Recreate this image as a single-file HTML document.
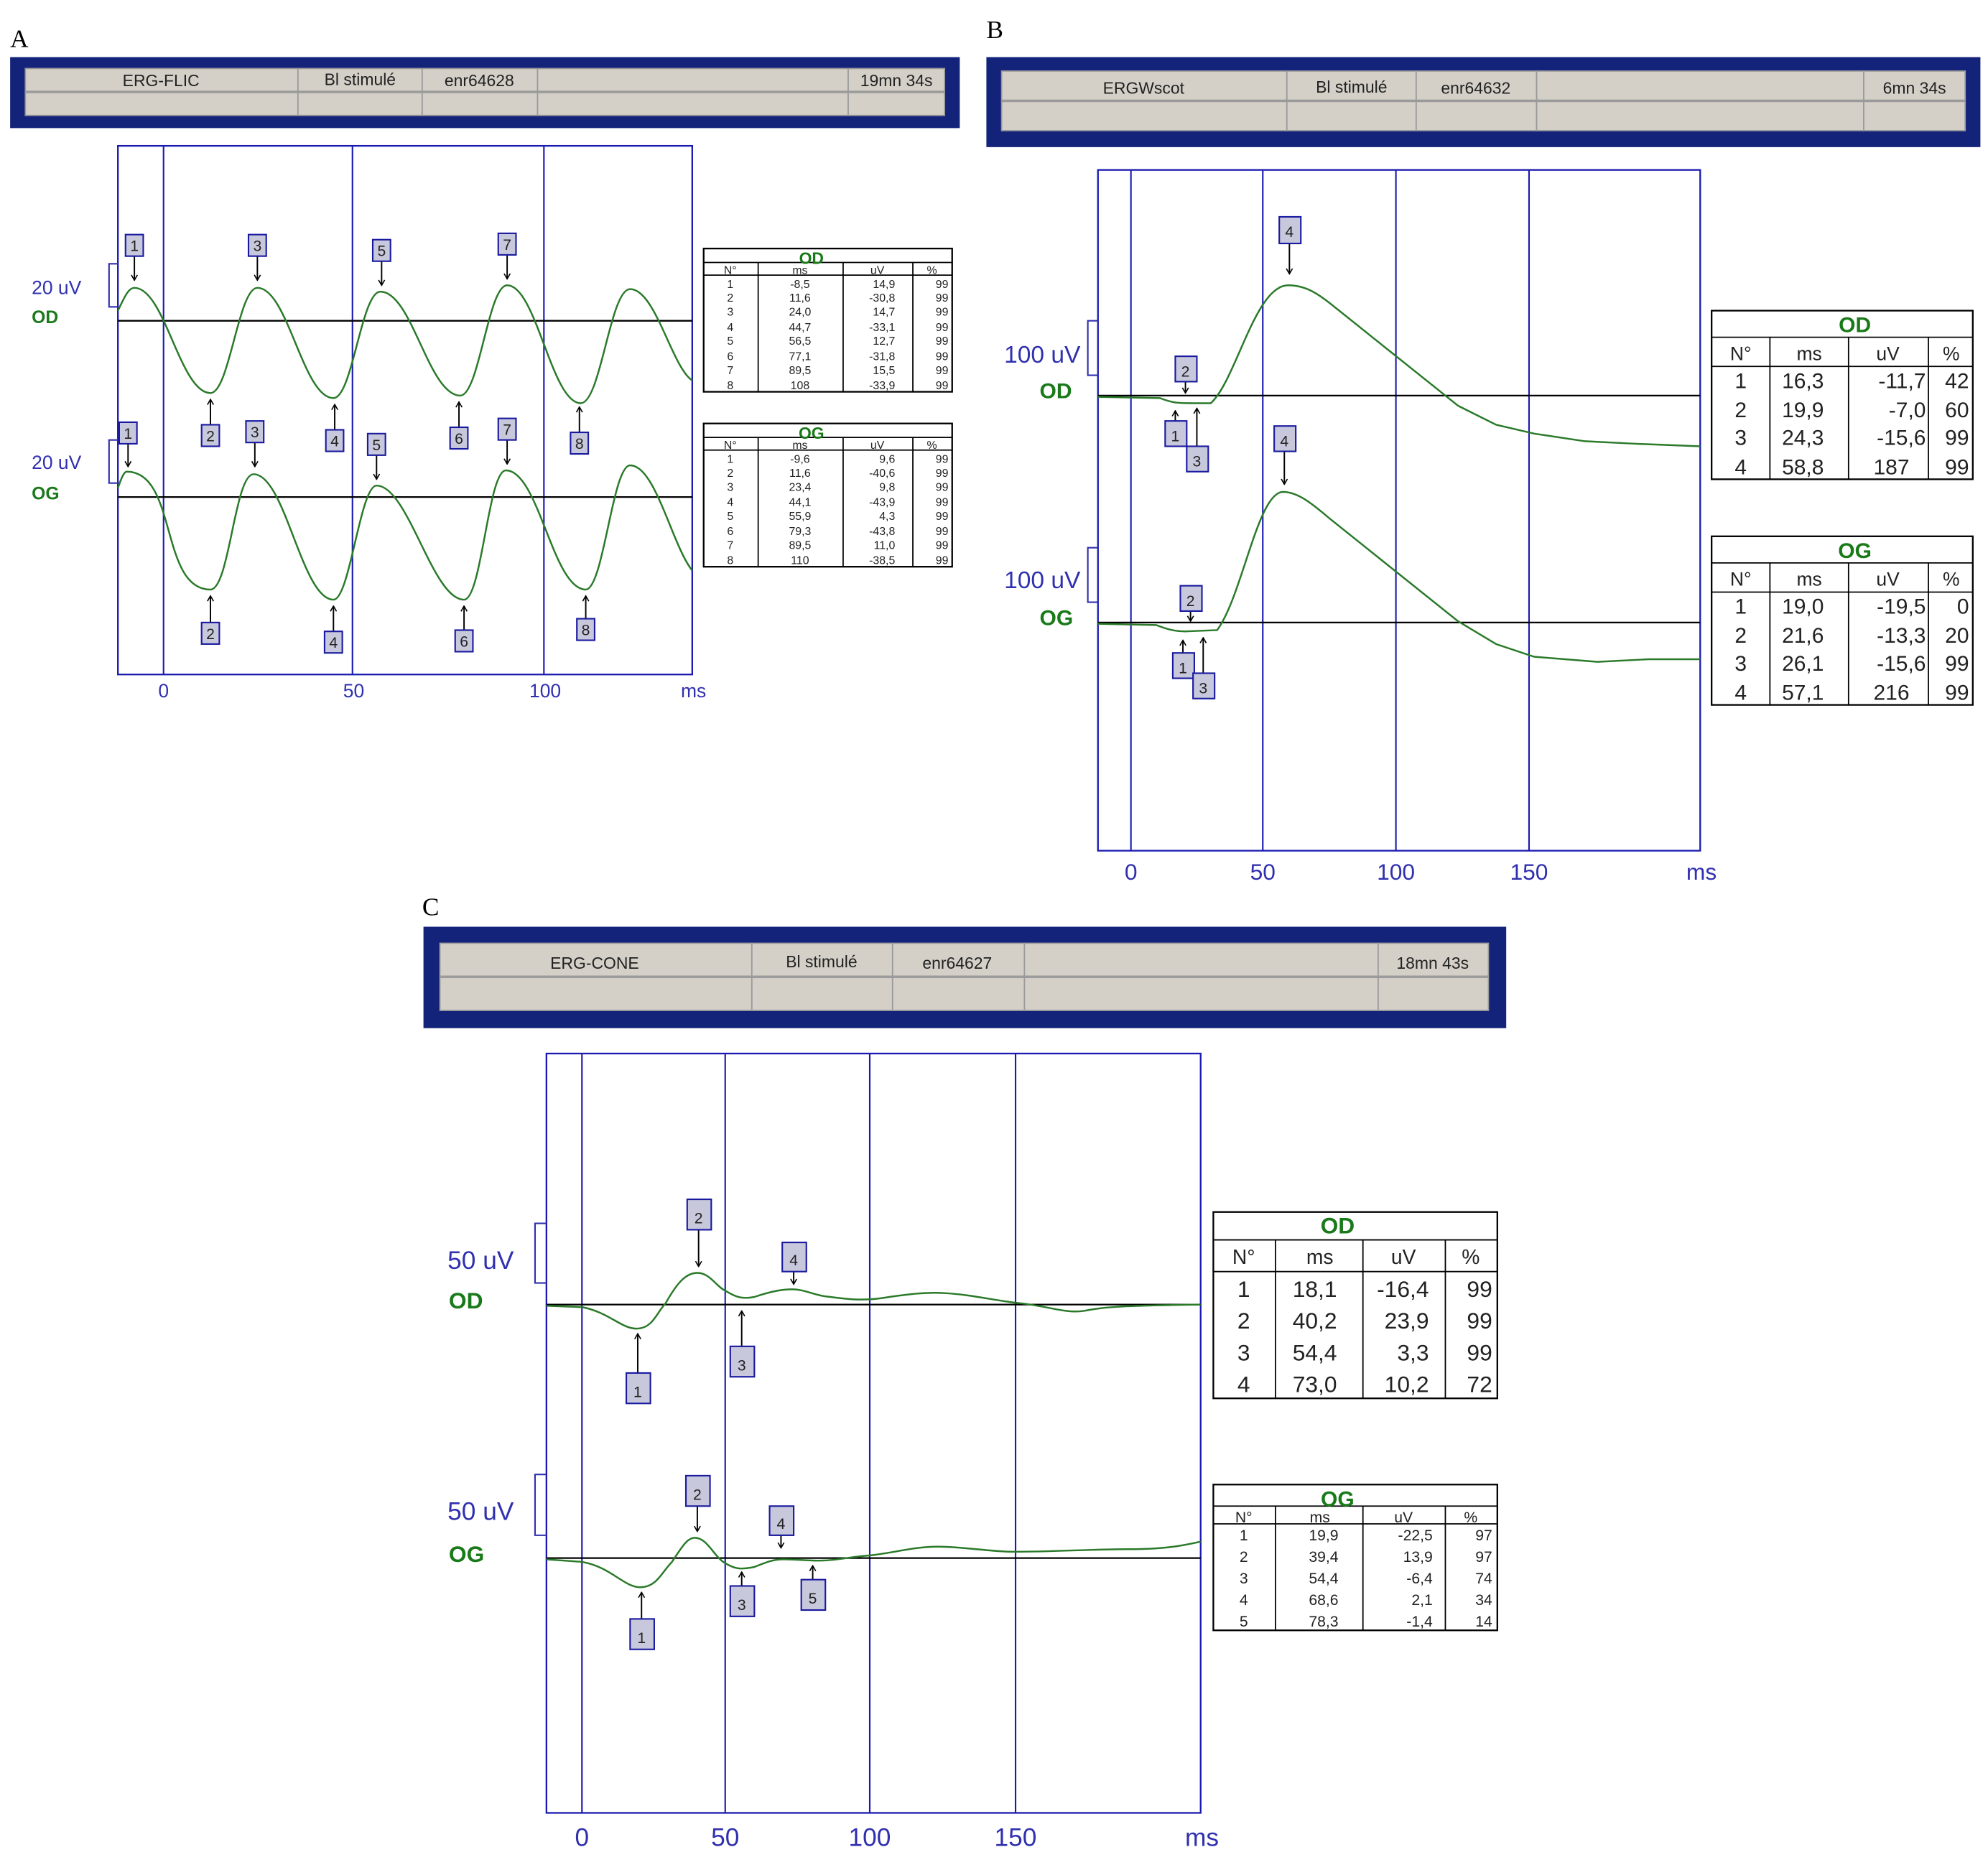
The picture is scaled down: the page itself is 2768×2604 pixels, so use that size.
<!DOCTYPE html>
<html><head><meta charset="utf-8"><style>html,body{margin:0;padding:0;background:#fff}svg{display:block}</style></head>
<body>
<svg xmlns="http://www.w3.org/2000/svg" width="2768" height="2604" viewBox="0 0 1568 1475" font-family="Liberation Sans, sans-serif">
<defs>
<marker id="ah" viewBox="0 0 10 10" refX="9" refY="5" markerWidth="6" markerHeight="6" markerUnits="userSpaceOnUse" orient="auto"><path d="M2,1 L9,5 L2,9" fill="none" stroke="#000" stroke-width="1.5"/></marker>
<style>
.hd{fill:#d4d0c8;stroke:#9a9a9a;stroke-width:1}
.ht{font-size:13px;fill:#222;text-anchor:middle}
.pb{fill:none;stroke:#1a1ab0;stroke-width:1.3}
.vl{stroke:#1a1ab0;stroke-width:1.2}
.bl{stroke:#000;stroke-width:1.3}
.wv{fill:none;stroke:#2a7a2a;stroke-width:1.4}
.mb{fill:#c8c8dc;stroke:#1a1aa0;stroke-width:1.2}
.mt{font-size:12px;fill:#222;text-anchor:middle}
.ar{stroke:#000;stroke-width:1.1;marker-end:url(#ah)}
.uv{fill:#3030b0}
.eye{fill:#1a7a1a;font-weight:bold}
.ax{fill:#3030b0;text-anchor:middle}
.tb{fill:#fff;stroke:#000;stroke-width:1.3}
.tl{stroke:#000;stroke-width:1}
.tt{fill:#1a7a1a;font-weight:bold;text-anchor:middle}
.c{text-anchor:middle;fill:#222}
.r{text-anchor:end;fill:#222}
</style>
</defs>

<!-- ================= A ================= -->
<text x="8" y="37" font-family="Liberation Serif, serif" font-size="20">A</text>
<rect x="8" y="45" width="749" height="56" fill="#14237a"/>
<rect x="20" y="54" width="725" height="37" fill="#d4d0c8"/>
<g class="hd"><rect x="20" y="54" width="215" height="18"/><rect x="235" y="54" width="98" height="18"/><rect x="333" y="54" width="91" height="18"/><rect x="424" y="54" width="245" height="18"/><rect x="669" y="54" width="76" height="18"/>
<rect x="20" y="73" width="215" height="18"/><rect x="235" y="73" width="98" height="18"/><rect x="333" y="73" width="91" height="18"/><rect x="424" y="73" width="245" height="18"/><rect x="669" y="73" width="76" height="18"/></g>
<text class="ht" x="127" y="68">ERG-FLIC</text><text class="ht" x="284" y="67" font-size="11">Bl stimulé</text><text class="ht" x="378" y="68">enr64628</text><text class="ht" x="707" y="68">19mn 34s</text>

<rect class="pb" x="93" y="115" width="453" height="417"/>
<line class="vl" x1="129" y1="115" x2="129" y2="532"/><line class="vl" x1="278" y1="115" x2="278" y2="532"/><line class="vl" x1="429" y1="115" x2="429" y2="532"/>
<line class="bl" x1="93" y1="253" x2="546" y2="253"/><line class="bl" x1="93" y1="392" x2="546" y2="392"/>
<g font-size="15"><text class="ax" x="129" y="550">0</text><text class="ax" x="279" y="550">50</text><text class="ax" x="430" y="550">100</text><text class="ax" x="547" y="550">ms</text></g>
<path class="wv" d="M93,245 C98,235 101,227 106,227 C130,227 142,310 166,310 C181,310 188,227 203,227 C227,227 239,314 263,314 C278,314 285,230 300,230 C325,230 338,312 363,312 C378,312 385,225 400,225 C423,225 435,318 458,318 C474,318 481,228 497,228 C517,228 530,290 546,300"/>
<path class="wv" d="M93,385 C96,376 98,372 100,372 C140,372 126,465 166,465 C181,465 185,374 200,374 C225,374 238,473 263,473 C276,473 284,383 297,383 C322,383 341,473 366,473 C380,473 385,371 399,371 C425,371 436,465 462,465 C476,465 483,367 497,367 C517,367 530,430 546,450"/>
<path d="M93,208 H86 V242 H93" fill="none" stroke="#3030b0" stroke-width="1.2"/>
<path d="M93,347 H86 V381 H93" fill="none" stroke="#3030b0" stroke-width="1.2"/>
<text class="uv" x="25" y="232" font-size="15">20 uV</text><text class="eye" x="25" y="255" font-size="14">OD</text>
<text class="uv" x="25" y="370" font-size="15">20 uV</text><text class="eye" x="25" y="394" font-size="14">OG</text>
<g>
<line class="ar" x1="106" y1="202" x2="106" y2="221"/><rect class="mb" x="99" y="185" width="14" height="17"/><text class="mt" x="106" y="198">1</text>
<line class="ar" x1="203" y1="202" x2="203" y2="221"/><rect class="mb" x="196" y="185" width="14" height="17"/><text class="mt" x="203" y="198">3</text>
<line class="ar" x1="301" y1="206" x2="301" y2="225"/><rect class="mb" x="294" y="189" width="14" height="17"/><text class="mt" x="301" y="202">5</text>
<line class="ar" x1="400" y1="201" x2="400" y2="220"/><rect class="mb" x="393" y="184" width="14" height="17"/><text class="mt" x="400" y="197">7</text>
<line class="ar" x1="166" y1="335" x2="166" y2="315"/><rect class="mb" x="159" y="335" width="14" height="17"/><text class="mt" x="166" y="348">2</text>
<line class="ar" x1="264" y1="339" x2="264" y2="319"/><rect class="mb" x="257" y="339" width="14" height="17"/><text class="mt" x="264" y="352">4</text>
<line class="ar" x1="362" y1="337" x2="362" y2="317"/><rect class="mb" x="355" y="337" width="14" height="17"/><text class="mt" x="362" y="350">6</text>
<line class="ar" x1="457" y1="341" x2="457" y2="321"/><rect class="mb" x="450" y="341" width="14" height="17"/><text class="mt" x="457" y="354">8</text>
<line class="ar" x1="101" y1="350" x2="101" y2="368"/><rect class="mb" x="94" y="333" width="14" height="17"/><text class="mt" x="101" y="346">1</text>
<line class="ar" x1="201" y1="349" x2="201" y2="368"/><rect class="mb" x="194" y="332" width="14" height="17"/><text class="mt" x="201" y="345">3</text>
<line class="ar" x1="297" y1="359" x2="297" y2="378"/><rect class="mb" x="290" y="342" width="14" height="17"/><text class="mt" x="297" y="355">5</text>
<line class="ar" x1="400" y1="347" x2="400" y2="366"/><rect class="mb" x="393" y="330" width="14" height="17"/><text class="mt" x="400" y="343">7</text>
<line class="ar" x1="166" y1="491" x2="166" y2="470"/><rect class="mb" x="159" y="491" width="14" height="17"/><text class="mt" x="166" y="504">2</text>
<line class="ar" x1="263" y1="498" x2="263" y2="478"/><rect class="mb" x="256" y="498" width="14" height="17"/><text class="mt" x="263" y="511">4</text>
<line class="ar" x1="366" y1="497" x2="366" y2="478"/><rect class="mb" x="359" y="497" width="14" height="17"/><text class="mt" x="366" y="510">6</text>
<line class="ar" x1="462" y1="488" x2="462" y2="470"/><rect class="mb" x="455" y="488" width="14" height="17"/><text class="mt" x="462" y="501">8</text>
</g>
<g font-size="9">
<rect class="tb" x="555" y="196" width="196" height="113"/>
<line class="tl" x1="555" y1="207" x2="751" y2="207"/><line class="tl" x1="555" y1="217" x2="751" y2="217"/>
<line class="tl" x1="598" y1="207" x2="598" y2="309"/><line class="tl" x1="665" y1="207" x2="665" y2="309"/><line class="tl" x1="720" y1="207" x2="720" y2="309"/>
<text class="tt" x="640" y="208" font-size="13">OD</text>
<text class="c" x="576" y="216">N°</text><text class="c" x="631" y="216">ms</text><text class="c" x="692" y="216">uV</text><text class="c" x="735" y="216">%</text>
<text class="c" x="576" y="227">1</text><text class="c" x="631" y="227">-8,5</text><text class="r" x="706" y="227">14,9</text><text class="r" x="748" y="227">99</text>
<text class="c" x="576" y="238">2</text><text class="c" x="631" y="238">11,6</text><text class="r" x="706" y="238">-30,8</text><text class="r" x="748" y="238">99</text>
<text class="c" x="576" y="249">3</text><text class="c" x="631" y="249">24,0</text><text class="r" x="706" y="249">14,7</text><text class="r" x="748" y="249">99</text>
<text class="c" x="576" y="261">4</text><text class="c" x="631" y="261">44,7</text><text class="r" x="706" y="261">-33,1</text><text class="r" x="748" y="261">99</text>
<text class="c" x="576" y="272">5</text><text class="c" x="631" y="272">56,5</text><text class="r" x="706" y="272">12,7</text><text class="r" x="748" y="272">99</text>
<text class="c" x="576" y="284">6</text><text class="c" x="631" y="284">77,1</text><text class="r" x="706" y="284">-31,8</text><text class="r" x="748" y="284">99</text>
<text class="c" x="576" y="295">7</text><text class="c" x="631" y="295">89,5</text><text class="r" x="706" y="295">15,5</text><text class="r" x="748" y="295">99</text>
<text class="c" x="576" y="307">8</text><text class="c" x="631" y="307">108</text><text class="r" x="706" y="307">-33,9</text><text class="r" x="748" y="307">99</text>

<rect class="tb" x="555" y="334" width="196" height="113"/>
<line class="tl" x1="555" y1="345" x2="751" y2="345"/><line class="tl" x1="555" y1="355" x2="751" y2="355"/>
<line class="tl" x1="598" y1="345" x2="598" y2="447"/><line class="tl" x1="665" y1="345" x2="665" y2="447"/><line class="tl" x1="720" y1="345" x2="720" y2="447"/>
<text class="tt" x="640" y="346" font-size="13">OG</text>
<text class="c" x="576" y="354">N°</text><text class="c" x="631" y="354">ms</text><text class="c" x="692" y="354">uV</text><text class="c" x="735" y="354">%</text>
<text class="c" x="576" y="365">1</text><text class="c" x="631" y="365">-9,6</text><text class="r" x="706" y="365">9,6</text><text class="r" x="748" y="365">99</text>
<text class="c" x="576" y="376">2</text><text class="c" x="631" y="376">11,6</text><text class="r" x="706" y="376">-40,6</text><text class="r" x="748" y="376">99</text>
<text class="c" x="576" y="387">3</text><text class="c" x="631" y="387">23,4</text><text class="r" x="706" y="387">9,8</text><text class="r" x="748" y="387">99</text>
<text class="c" x="576" y="399">4</text><text class="c" x="631" y="399">44,1</text><text class="r" x="706" y="399">-43,9</text><text class="r" x="748" y="399">99</text>
<text class="c" x="576" y="410">5</text><text class="c" x="631" y="410">55,9</text><text class="r" x="706" y="410">4,3</text><text class="r" x="748" y="410">99</text>
<text class="c" x="576" y="422">6</text><text class="c" x="631" y="422">79,3</text><text class="r" x="706" y="422">-43,8</text><text class="r" x="748" y="422">99</text>
<text class="c" x="576" y="433">7</text><text class="c" x="631" y="433">89,5</text><text class="r" x="706" y="433">11,0</text><text class="r" x="748" y="433">99</text>
<text class="c" x="576" y="445">8</text><text class="c" x="631" y="445">110</text><text class="r" x="706" y="445">-38,5</text><text class="r" x="748" y="445">99</text>
</g>

<!-- ================= B ================= -->
<text x="778" y="30" font-family="Liberation Serif, serif" font-size="20">B</text>
<rect x="778" y="45" width="784" height="71" fill="#14237a"/>
<rect x="790" y="56" width="760" height="47" fill="#d4d0c8"/>
<g class="hd"><rect x="790" y="56" width="225" height="23"/><rect x="1015" y="56" width="102" height="23"/><rect x="1117" y="56" width="95" height="23"/><rect x="1212" y="56" width="258" height="23"/><rect x="1470" y="56" width="80" height="23"/>
<rect x="790" y="80" width="225" height="23"/><rect x="1015" y="80" width="102" height="23"/><rect x="1117" y="80" width="95" height="23"/><rect x="1212" y="80" width="258" height="23"/><rect x="1470" y="80" width="80" height="23"/></g>
<text class="ht" x="902" y="74" font-size="16">ERGWscot</text><text class="ht" x="1066" y="73" font-size="14">Bl stimulé</text><text class="ht" x="1164" y="74" font-size="16">enr64632</text><text class="ht" x="1510" y="74" font-size="16">6mn 34s</text>

<rect class="pb" x="866" y="134" width="475" height="537"/>
<line class="vl" x1="892" y1="134" x2="892" y2="671"/><line class="vl" x1="996" y1="134" x2="996" y2="671"/><line class="vl" x1="1101" y1="134" x2="1101" y2="671"/><line class="vl" x1="1206" y1="134" x2="1206" y2="671"/>
<line class="bl" x1="866" y1="312" x2="1341" y2="312"/><line class="bl" x1="866" y1="491" x2="1341" y2="491"/>
<g font-size="18"><text class="ax" x="892" y="694">0</text><text class="ax" x="996" y="694">50</text><text class="ax" x="1101" y="694">100</text><text class="ax" x="1206" y="694">150</text><text class="ax" x="1342" y="694">ms</text></g>
<path class="wv" d="M866,313 L915,314 C925,318 930,318 940,318 L955,318 C975,300 990,225 1016,225 C1030,225 1040,232 1050,240 L1100,280 L1150,320 L1180,335 L1210,342 L1250,348 L1290,350 L1341,352"/>
<path class="wv" d="M866,492 L912,493 C922,497 928,498 935,498 L960,497 C980,470 992,388 1012,388 C1025,388 1038,400 1050,410 L1100,450 L1150,490 L1180,508 L1210,518 L1260,522 L1300,520 L1341,520"/>
<path d="M866,253 H858 V296 H866" fill="none" stroke="#3030b0" stroke-width="1.2"/>
<path d="M866,432 H858 V475 H866" fill="none" stroke="#3030b0" stroke-width="1.2"/>
<text class="uv" x="792" y="286" font-size="19">100 uV</text><text class="eye" x="820" y="314" font-size="17">OD</text>
<text class="uv" x="792" y="464" font-size="19">100 uV</text><text class="eye" x="820" y="493" font-size="17">OG</text>
<g>
<line class="ar" x1="1017" y1="192" x2="1017" y2="216"/><rect class="mb" x="1009" y="171" width="17" height="21"/><text class="mt" x="1017" y="187" font-size="14">4</text>
<line class="ar" x1="935" y1="301" x2="935" y2="310"/><rect class="mb" x="927" y="281" width="17" height="20"/><text class="mt" x="935" y="297" font-size="14">2</text>
<line class="ar" x1="927" y1="332" x2="927" y2="324"/><rect class="mb" x="919" y="332" width="17" height="20"/><text class="mt" x="927" y="348" font-size="14">1</text>
<line class="ar" x1="944" y1="352" x2="944" y2="322"/><rect class="mb" x="936" y="352" width="17" height="20"/><text class="mt" x="944" y="368" font-size="14">3</text>
<line class="ar" x1="1013" y1="356" x2="1013" y2="382"/><rect class="mb" x="1005" y="336" width="17" height="20"/><text class="mt" x="1013" y="352" font-size="14">4</text>
<line class="ar" x1="939" y1="482" x2="939" y2="490"/><rect class="mb" x="931" y="462" width="17" height="20"/><text class="mt" x="939" y="478" font-size="14">2</text>
<line class="ar" x1="933" y1="515" x2="933" y2="505"/><rect class="mb" x="925" y="515" width="17" height="20"/><text class="mt" x="933" y="531" font-size="14">1</text>
<line class="ar" x1="949" y1="531" x2="949" y2="503"/><rect class="mb" x="941" y="531" width="17" height="20"/><text class="mt" x="949" y="547" font-size="14">3</text>
</g>
<g font-size="17">
<rect class="tb" x="1350" y="245" width="206" height="133"/>
<line class="tl" x1="1350" y1="266" x2="1556" y2="266"/><line class="tl" x1="1350" y1="289" x2="1556" y2="289"/>
<line class="tl" x1="1396" y1="266" x2="1396" y2="378"/><line class="tl" x1="1458" y1="266" x2="1458" y2="378"/><line class="tl" x1="1521" y1="266" x2="1521" y2="378"/>
<text class="tt" x="1463" y="262" font-size="17">OD</text>
<text class="c" x="1373" y="284" font-size="15">N°</text><text class="c" x="1427" y="284" font-size="15">ms</text><text class="c" x="1489" y="284" font-size="15">uV</text><text class="c" x="1539" y="284" font-size="15">%</text>
<text class="c" x="1373" y="306">1</text><text class="c" x="1422" y="306">16,3</text><text class="r" x="1519" y="306">-11,7</text><text class="r" x="1553" y="306">42</text>
<text class="c" x="1373" y="329">2</text><text class="c" x="1422" y="329">19,9</text><text class="r" x="1519" y="329">-7,0</text><text class="r" x="1553" y="329">60</text>
<text class="c" x="1373" y="351">3</text><text class="c" x="1422" y="351">24,3</text><text class="r" x="1519" y="351">-15,6</text><text class="r" x="1553" y="351">99</text>
<text class="c" x="1373" y="374">4</text><text class="c" x="1422" y="374">58,8</text><text class="r" x="1506" y="374">187</text><text class="r" x="1553" y="374">99</text>

<rect class="tb" x="1350" y="423" width="206" height="133"/>
<line class="tl" x1="1350" y1="444" x2="1556" y2="444"/><line class="tl" x1="1350" y1="467" x2="1556" y2="467"/>
<line class="tl" x1="1396" y1="444" x2="1396" y2="556"/><line class="tl" x1="1458" y1="444" x2="1458" y2="556"/><line class="tl" x1="1521" y1="444" x2="1521" y2="556"/>
<text class="tt" x="1463" y="440" font-size="17">OG</text>
<text class="c" x="1373" y="462" font-size="15">N°</text><text class="c" x="1427" y="462" font-size="15">ms</text><text class="c" x="1489" y="462" font-size="15">uV</text><text class="c" x="1539" y="462" font-size="15">%</text>
<text class="c" x="1373" y="484">1</text><text class="c" x="1422" y="484">19,0</text><text class="r" x="1519" y="484">-19,5</text><text class="r" x="1553" y="484">0</text>
<text class="c" x="1373" y="507">2</text><text class="c" x="1422" y="507">21,6</text><text class="r" x="1519" y="507">-13,3</text><text class="r" x="1553" y="507">20</text>
<text class="c" x="1373" y="529">3</text><text class="c" x="1422" y="529">26,1</text><text class="r" x="1519" y="529">-15,6</text><text class="r" x="1553" y="529">99</text>
<text class="c" x="1373" y="552">4</text><text class="c" x="1422" y="552">57,1</text><text class="r" x="1506" y="552">216</text><text class="r" x="1553" y="552">99</text>
</g>

<!-- ================= C ================= -->
<text x="333" y="722" font-family="Liberation Serif, serif" font-size="20">C</text>
<rect x="334" y="731" width="854" height="80" fill="#14237a"/>
<rect x="347" y="744" width="827" height="53" fill="#d4d0c8"/>
<g class="hd"><rect x="347" y="744" width="246" height="26"/><rect x="593" y="744" width="111" height="26"/><rect x="704" y="744" width="104" height="26"/><rect x="808" y="744" width="279" height="26"/><rect x="1087" y="744" width="87" height="26"/>
<rect x="347" y="771" width="246" height="26"/><rect x="593" y="771" width="111" height="26"/><rect x="704" y="771" width="104" height="26"/><rect x="808" y="771" width="279" height="26"/><rect x="1087" y="771" width="87" height="26"/></g>
<text class="ht" x="469" y="764" font-size="17">ERG-CONE</text><text class="ht" x="648" y="763" font-size="15">Bl stimulé</text><text class="ht" x="755" y="764" font-size="17">enr64627</text><text class="ht" x="1130" y="764" font-size="17">18mn 43s</text>

<rect class="pb" x="431" y="831" width="516" height="599"/>
<line class="vl" x1="459" y1="831" x2="459" y2="1430"/><line class="vl" x1="572" y1="831" x2="572" y2="1430"/><line class="vl" x1="686" y1="831" x2="686" y2="1430"/><line class="vl" x1="801" y1="831" x2="801" y2="1430"/>
<line class="bl" x1="431" y1="1029" x2="947" y2="1029"/><line class="bl" x1="431" y1="1229" x2="947" y2="1229"/>
<g font-size="20"><text class="ax" x="459" y="1456">0</text><text class="ax" x="572" y="1456">50</text><text class="ax" x="686" y="1456">100</text><text class="ax" x="801" y="1456">150</text><text class="ax" x="948" y="1456">ms</text></g>
<path class="wv" d="M431,1030 L459,1031 C480,1035 490,1048 502,1048 C515,1048 518,1035 525,1028 C535,1010 542,1004 550,1004 C560,1004 565,1015 572,1018 C580,1023 585,1025 595,1023 C610,1018 618,1017 625,1017 C635,1017 642,1022 655,1023 C670,1025 680,1026 695,1024 C715,1021 730,1019 745,1020 C765,1021 785,1026 805,1028 C830,1031 840,1036 855,1034 C870,1031 880,1030 947,1029"/>
<path class="wv" d="M431,1230 L459,1232 C482,1236 492,1252 505,1252 C518,1252 522,1240 530,1232 C538,1220 542,1213 548,1213 C558,1213 563,1228 572,1233 C580,1238 585,1238 595,1236 C605,1232 610,1230 618,1230 C628,1230 635,1231 645,1231 C660,1231 670,1228 685,1227 C705,1225 720,1220 740,1220 C760,1220 780,1224 800,1224 C830,1224 860,1222 890,1222 C915,1222 930,1220 947,1216"/>
<path d="M431,965 H422 V1012 H431" fill="none" stroke="#3030b0" stroke-width="1.2"/>
<path d="M431,1163 H422 V1211 H431" fill="none" stroke="#3030b0" stroke-width="1.2"/>
<text class="uv" x="353" y="1001" font-size="20">50 uV</text><text class="eye" x="354" y="1032" font-size="18">OD</text>
<text class="uv" x="353" y="1199" font-size="20">50 uV</text><text class="eye" x="354" y="1232" font-size="18">OG</text>
<g>
<line class="ar" x1="551" y1="970" x2="551" y2="999"/><rect class="mb" x="542" y="946" width="19" height="24"/><text class="mt" x="551" y="965" font-size="15">2</text>
<line class="ar" x1="626" y1="1003" x2="626" y2="1013"/><rect class="mb" x="617" y="980" width="19" height="23"/><text class="mt" x="626" y="998" font-size="15">4</text>
<line class="ar" x1="503" y1="1083" x2="503" y2="1052"/><rect class="mb" x="494" y="1083" width="19" height="24"/><text class="mt" x="503" y="1102" font-size="15">1</text>
<line class="ar" x1="585" y1="1062" x2="585" y2="1034"/><rect class="mb" x="576" y="1062" width="19" height="24"/><text class="mt" x="585" y="1081" font-size="15">3</text>
<line class="ar" x1="550" y1="1188" x2="550" y2="1208"/><rect class="mb" x="541" y="1164" width="19" height="24"/><text class="mt" x="550" y="1183" font-size="15">2</text>
<line class="ar" x1="616" y1="1211" x2="616" y2="1221"/><rect class="mb" x="607" y="1188" width="19" height="23"/><text class="mt" x="616" y="1206" font-size="15">4</text>
<line class="ar" x1="506" y1="1277" x2="506" y2="1256"/><rect class="mb" x="497" y="1277" width="19" height="24"/><text class="mt" x="506" y="1296" font-size="15">1</text>
<line class="ar" x1="585" y1="1251" x2="585" y2="1240"/><rect class="mb" x="576" y="1251" width="19" height="24"/><text class="mt" x="585" y="1270" font-size="15">3</text>
<line class="ar" x1="641" y1="1246" x2="641" y2="1235"/><rect class="mb" x="632" y="1246" width="19" height="24"/><text class="mt" x="641" y="1265" font-size="15">5</text>
</g>
<g font-size="18">
<rect class="tb" x="957" y="956" width="224" height="147"/>
<line class="tl" x1="957" y1="978" x2="1181" y2="978"/><line class="tl" x1="957" y1="1003" x2="1181" y2="1003"/>
<line class="tl" x1="1006" y1="978" x2="1006" y2="1103"/><line class="tl" x1="1075" y1="978" x2="1075" y2="1103"/><line class="tl" x1="1140" y1="978" x2="1140" y2="1103"/>
<text class="tt" x="1055" y="973" font-size="18">OD</text>
<text class="c" x="981" y="997" font-size="16">N°</text><text class="c" x="1041" y="997" font-size="16">ms</text><text class="c" x="1107" y="997" font-size="16">uV</text><text class="c" x="1160" y="997" font-size="16">%</text>
<text class="c" x="981" y="1023">1</text><text class="c" x="1037" y="1023">18,1</text><text class="r" x="1127" y="1023">-16,4</text><text class="r" x="1177" y="1023">99</text>
<text class="c" x="981" y="1048">2</text><text class="c" x="1037" y="1048">40,2</text><text class="r" x="1127" y="1048">23,9</text><text class="r" x="1177" y="1048">99</text>
<text class="c" x="981" y="1073">3</text><text class="c" x="1037" y="1073">54,4</text><text class="r" x="1127" y="1073">3,3</text><text class="r" x="1177" y="1073">99</text>
<text class="c" x="981" y="1098">4</text><text class="c" x="1037" y="1098">73,0</text><text class="r" x="1127" y="1098">10,2</text><text class="r" x="1177" y="1098">72</text>
</g>
<g font-size="12">
<rect class="tb" x="957" y="1171" width="224" height="115"/>
<line class="tl" x1="957" y1="1188" x2="1181" y2="1188"/><line class="tl" x1="957" y1="1202" x2="1181" y2="1202"/>
<line class="tl" x1="1006" y1="1188" x2="1006" y2="1286"/><line class="tl" x1="1075" y1="1188" x2="1075" y2="1286"/><line class="tl" x1="1140" y1="1188" x2="1140" y2="1286"/>
<text class="tt" x="1055" y="1188" font-size="17">OG</text>
<text class="c" x="981" y="1201">N°</text><text class="c" x="1041" y="1201">ms</text><text class="c" x="1107" y="1201">uV</text><text class="c" x="1160" y="1201">%</text>
<text class="c" x="981" y="1215">1</text><text class="c" x="1044" y="1215">19,9</text><text class="r" x="1130" y="1215">-22,5</text><text class="r" x="1177" y="1215">97</text>
<text class="c" x="981" y="1232">2</text><text class="c" x="1044" y="1232">39,4</text><text class="r" x="1130" y="1232">13,9</text><text class="r" x="1177" y="1232">97</text>
<text class="c" x="981" y="1249">3</text><text class="c" x="1044" y="1249">54,4</text><text class="r" x="1130" y="1249">-6,4</text><text class="r" x="1177" y="1249">74</text>
<text class="c" x="981" y="1266">4</text><text class="c" x="1044" y="1266">68,6</text><text class="r" x="1130" y="1266">2,1</text><text class="r" x="1177" y="1266">34</text>
<text class="c" x="981" y="1283">5</text><text class="c" x="1044" y="1283">78,3</text><text class="r" x="1130" y="1283">-1,4</text><text class="r" x="1177" y="1283">14</text>
</g>
</svg>
</body></html>
